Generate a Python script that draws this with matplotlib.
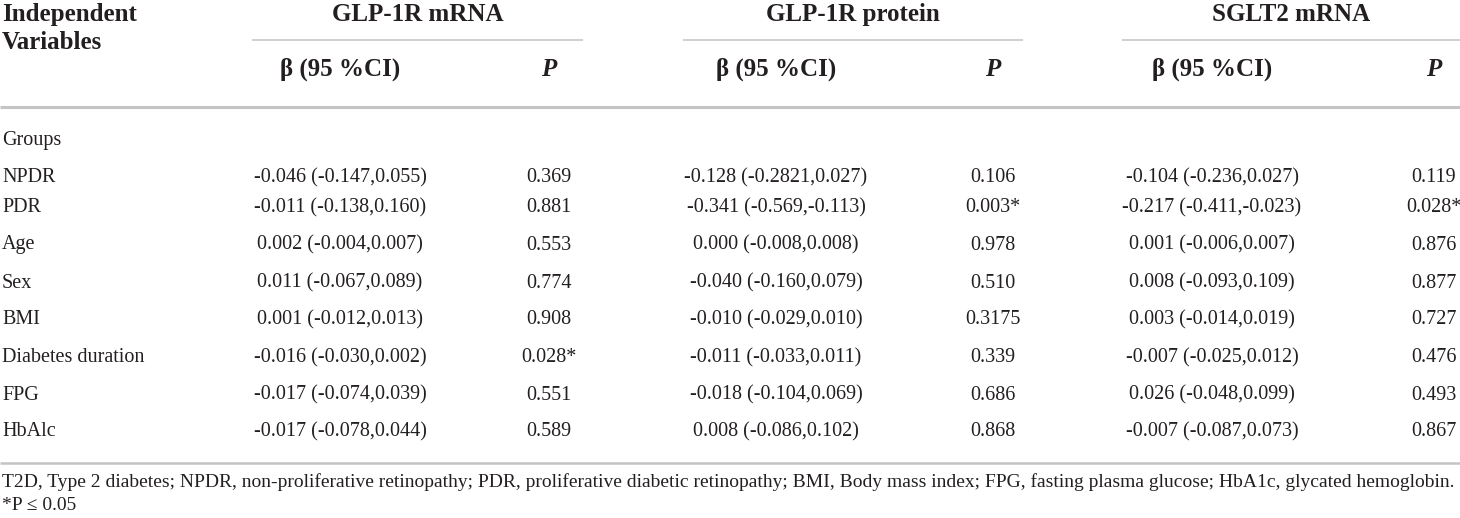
import matplotlib.pyplot as plt

# ========== DATA ==========
outcomes = ["GLP-1R mRNA", "GLP-1R protein", "SGLT2 mRNA"]
row_labels = ["Groups", "NPDR", "PDR", "Age", "Sex", "BMI",
              "Diabetes duration", "FPG", "HbAlc"]

glp1r_mrna_beta = ["", "-0.046 (-0.147,0.055)", "-0.011 (-0.138,0.160)",
                   "0.002 (-0.004,0.007)", "0.011 (-0.067,0.089)",
                   "0.001 (-0.012,0.013)", "-0.016 (-0.030,0.002)",
                   "-0.017 (-0.074,0.039)", "-0.017 (-0.078,0.044)"]
glp1r_mrna_p = ["", "0.369", "0.881", "0.553", "0.774", "0.908", "0.028*",
                "0.551", "0.589"]

glp1r_prot_beta = ["", "-0.128 (-0.2821,0.027)", "-0.341 (-0.569,-0.113)",
                   "0.000 (-0.008,0.008)", "-0.040 (-0.160,0.079)",
                   "-0.010 (-0.029,0.010)", "-0.011 (-0.033,0.011)",
                   "-0.018 (-0.104,0.069)", "0.008 (-0.086,0.102)"]
glp1r_prot_p = ["", "0.106", "0.003*", "0.978", "0.510", "0.3175", "0.339",
                "0.686", "0.868"]

sglt2_beta = ["", "-0.104 (-0.236,0.027)", "-0.217 (-0.411,-0.023)",
              "0.001 (-0.006,0.007)", "0.008 (-0.093,0.109)",
              "0.003 (-0.014,0.019)", "-0.007 (-0.025,0.012)",
              "0.026 (-0.048,0.099)", "-0.007 (-0.087,0.073)"]
sglt2_p = ["", "0.119", "0.028*", "0.876", "0.877", "0.727", "0.476",
           "0.493", "0.867"]

footnote_1 = ("T2D, Type 2 diabetes; NPDR, non-proliferative retinopathy; "
              "PDR, proliferative diabetic retinopathy; BMI, Body mass index; "
              "FPG, fasting plasma glucose; HbA1c, glycated hemoglobin.")
footnote_2 = "*P \u2264 0.05"

# ========== LAYOUT (pixels) ==========
W, H = 1460, 518
row_y = [139, 176, 206, 243, 281, 318, 356, 393, 430]
beta_x = [340, 776, 1212]
p_x = [549, 993, 1434]
span_x = [(252, 583), (683, 1023), (1122, 1460)]
ink = "#231f20"
rule = "#c4c4c4"

plt.rcParams['font.family'] = ['Liberation Serif', 'DejaVu Serif']

fig = plt.figure(figsize=(W / 100, H / 100), dpi=100)
ax = fig.add_axes([0, 0, 1, 1])
ax.set_xlim(0, W)
ax.set_ylim(H, 0)
ax.axis("off")

# header (baseline = visual centre + half cap height)
hdr = dict(fontsize=18, fontweight="bold", color=ink, va="baseline")
ax.text(2, 21, "Independent", ha="left", **hdr)
ax.text(2, 49, "Variables", ha="left", **hdr)
for name, (x0, x1), bx, px in zip(outcomes, span_x, beta_x, p_x):
    ax.text((x0 + x1) / 2, 21, name, ha="center", **hdr)
    ax.hlines(40, x0, x1, color=rule, lw=1.1)
    ax.text(bx, 76, "\u03b2 (95 %CI)", ha="center", **hdr)
    ax.text(px, 76, "P", ha="center", style="italic", **hdr)
ax.hlines(107, 0, W, color=rule, lw=2.2)

# body
body = dict(fontsize=14.5, color=ink, va="baseline")
columns = [(glp1r_mrna_beta, glp1r_mrna_p),
           (glp1r_prot_beta, glp1r_prot_p),
           (sglt2_beta, sglt2_p)]
for i, label in enumerate(row_labels):
    yb = row_y[i] + 6.5
    ax.text(2, yb, label, ha="left", **body)
    for (betas, ps), bx, px in zip(columns, beta_x, p_x):
        ax.text(bx, yb, betas[i], ha="center", **body)
        ax.text(px, yb, ps[i], ha="center", **body)

ax.hlines(463, 0, W, color=rule, lw=1.8)
foot = dict(fontsize=14, color=ink, va="baseline", ha="left")
ax.text(2, 487, footnote_1, **foot)
ax.text(2, 510, footnote_2, **foot)

fig.savefig("out.png", dpi=100)
